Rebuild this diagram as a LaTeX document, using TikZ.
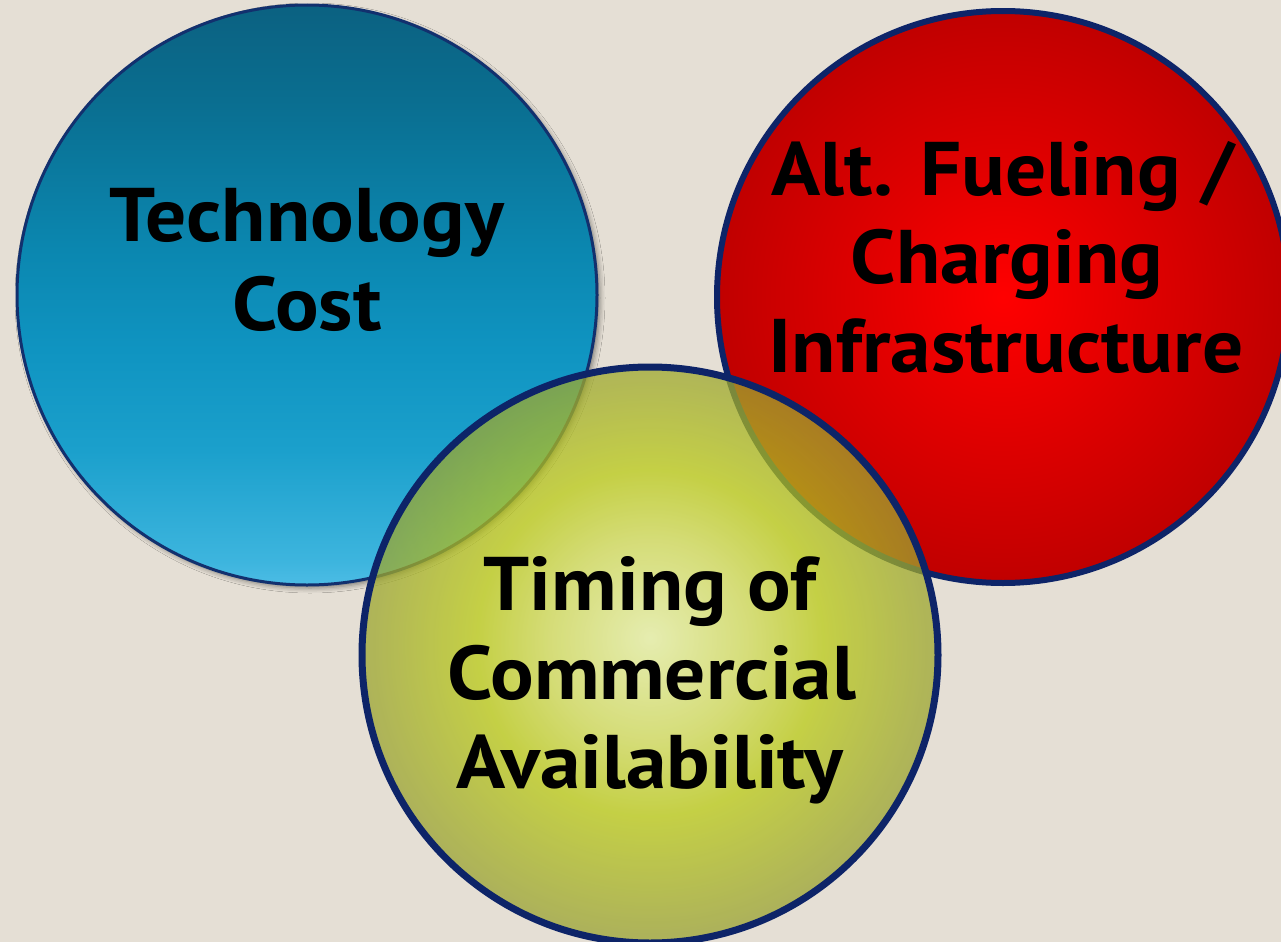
\documentclass[tikz,border=0pt]{standalone}
\usepackage{fontspec}
\usetikzlibrary{shadows.blur}
\newfontfamily\lblfont{PT Sans}[FakeStretch=1.07]
\definecolor{bgc}{HTML}{E5DFD5}
\definecolor{rim}{HTML}{0D2468}
\definecolor{bluerim}{HTML}{12306E}
\definecolor{bA}{HTML}{4CBCE5}
\definecolor{bB}{HTML}{3DB5DE}
\definecolor{bC}{HTML}{1BA0CC}
\definecolor{bD}{HTML}{0F94C1}
\definecolor{bE}{HTML}{0B87B0}
\definecolor{bF}{HTML}{0A6E90}
\definecolor{bG}{HTML}{0B6181}
\definecolor{rA}{HTML}{FF0000}
\definecolor{rB}{HTML}{E00000}
\definecolor{rC}{HTML}{C00000}
\definecolor{yA}{HTML}{E6F2A4}
\definecolor{yB}{HTML}{D0DC59}
\definecolor{yC}{HTML}{BACB16}
\definecolor{yD}{HTML}{9BA431}
\pgfdeclareverticalshading{bluesh}{100bp}{color(0bp)=(bA); color(25bp)=(bA); color(27bp)=(bB); color(36.6bp)=(bC); color(45.3bp)=(bD); color(53.9bp)=(bE); color(66.8bp)=(bF); color(75bp)=(bG); color(100bp)=(bG)}
\pgfdeclareradialshading{redsh}{\pgfpoint{0bp}{0bp}}{color(0bp)=(rA); color(12bp)=(rB); color(25bp)=(rC); color(50bp)=(rC)}
\pgfdeclareradialshading{yelsh}{\pgfpoint{0bp}{1.5bp}}{color(0bp)=(yA); color(8.75bp)=(yB); color(15bp)=(yC); color(25bp)=(yD); color(50bp)=(yD)}
\begin{document}
\begin{tikzpicture}[x=0.5pt,y=-0.5pt,
  lbl/.style={font=\lblfont\bfseries\fontsize{38}{45}\selectfont, text=black, anchor=base, inner sep=0pt}]
\useasboundingbox (0,0) rectangle (1281,942);
\fill[bgc] (0,0) rectangle (1281,942);
% blue circle
\path[shading=bluesh, draw=bluerim, line width=1.5pt,
  blur shadow={shadow xshift=1.5pt, shadow yshift=-1.5pt, shadow blur radius=2.5pt, shadow opacity=45}]
  (307,295) circle[radius=145pt];
% red circle
\path[shading=redsh, draw=rim, line width=3pt] (1003,297) circle[radius=143pt];
% yellow circle (semi transparent)
\path[shading=yelsh, fill opacity=0.75] (650,655) circle[radius=144pt];
\draw[rim, line width=3.5pt] (650,655) circle[radius=144pt];
% labels
\node[lbl] (t1) at (307,241) {Technology};
\node[lbl] (t2) at (307,330) {Cost};
\node[lbl] (a1) at (1003,195) {Alt. Fueling /};
\node[lbl] (a2) at (1007,283) {Charging};
\node[lbl] (a3) at (1006,372) {Infrastructure};
\node[lbl] (c1) at (650,610) {Timing of};
\node[lbl] (c2) at (652,699) {Commercial};
\node[lbl] (c3) at (650,788) {Availability};
\end{tikzpicture}
\end{document}
